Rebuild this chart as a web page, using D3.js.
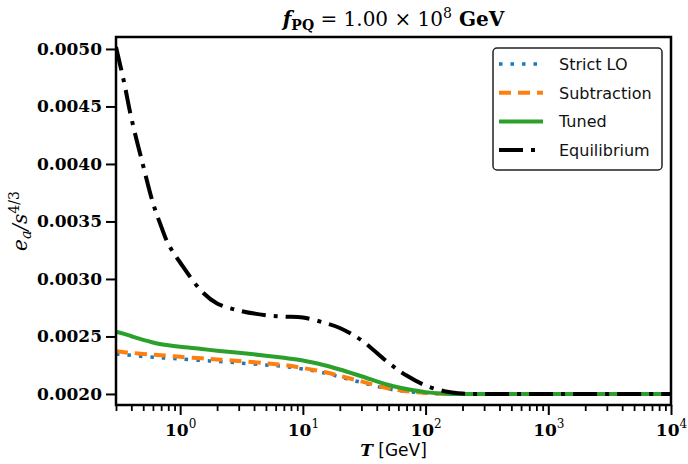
<!DOCTYPE html>
<html>
<head>
  <meta charset="utf-8">
  <title>fPQ</title>
  <script src="https://cdn.jsdelivr.net/npm/d3@7"></script>
  <style>
    body { margin: 0; background: #fff; }
  </style>
</head>
<body>
<svg id="mainsvg" width="688" height="464"></svg>
<script>
  // values
  const temps = [0.3, 0.35, 0.4, 0.5, 0.6, 0.7, 0.8, 1, 1.5, 2, 3, 5, 7, 10, 15, 20, 30, 50, 70, 100, 150, 200, 300, 500, 1000, 10000];
  const strictLO = [0.002348, 0.002341, 0.002337, 0.002326, 0.002319, 0.002314, 0.002311, 0.002304, 0.002291, 0.002283, 0.002270, 0.002252, 0.002239, 0.002217, 0.002183, 0.002148, 0.002100, 0.002043, 0.002022, 0.002007, 0.002001, 0.002000, 0.002000, 0.002000, 0.002000, 0.002000];
  const subtraction = [0.002371, 0.002363, 0.002358, 0.002348, 0.002341, 0.002336, 0.002332, 0.002323, 0.002310, 0.002300, 0.002287, 0.002267, 0.002252, 0.002226, 0.002191, 0.002157, 0.002109, 0.002048, 0.002024, 0.002009, 0.002001, 0.002000, 0.002000, 0.002000, 0.002000, 0.002000];
  const tuned = [0.002542, 0.002522, 0.002502, 0.002470, 0.002448, 0.002433, 0.002423, 0.002410, 0.002391, 0.002376, 0.002358, 0.002333, 0.002314, 0.002291, 0.002250, 0.002213, 0.002154, 0.002078, 0.002043, 0.002016, 0.002002, 0.002000, 0.002000, 0.002000, 0.002000, 0.002000];
  const equilibrium = [0.005017, 0.004704, 0.004400, 0.003983, 0.003661, 0.003457, 0.003304, 0.003143, 0.002892, 0.002787, 0.002726, 0.002685, 0.002673, 0.002664, 0.002619, 0.002574, 0.002467, 0.002270, 0.002160, 0.002074, 0.002019, 0.002003, 0.002000, 0.002000, 0.002000, 0.002000];
  const yTicks = [0.0020, 0.0025, 0.0030, 0.0035, 0.0040, 0.0045, 0.0050];
  const xTicks = [1, 10, 100, 1000, 10000];

  const series = [
    {name: 'Strict LO', values: strictLO, color: '#1f77b4', width: 3.5, dash: '3.5,8'},
    {name: 'Subtraction', values: subtraction, color: '#ff7f0e', width: 4, dash: '12,7'},
    {name: 'Tuned', values: tuned, color: '#2ca02c', width: 4, dash: null},
    {name: 'Equilibrium', values: equilibrium, color: '#000000', width: 4, dash: '24,8,4,8'}
  ];

  const svg = d3.select('#mainsvg');
  const pL = 116, pR = 671, pT = 37, pB = 405;

  const x = d3.scaleLog().domain([0.3, 10000]).range([pL, pR]);
  const y = d3.scaleLinear().domain([0.001904, 0.005104]).range([pB, pT]);

  svg.append('clipPath').attr('id', 'clip')
    .append('rect').attr('x', pL).attr('y', pT).attr('width', pR - pL).attr('height', pB - pT);

  const line = d3.line()
    .x(d => x(d[0]))
    .y(d => y(d[1]))
    .curve(d3.curveCatmullRom.alpha(0.5));

  const lines = svg.append('g').attr('clip-path', 'url(#clip)');
  series.forEach(s => {
    lines.append('path')
      .datum(temps.map((t, i) => [t, s.values[i]]))
      .attr('d', line)
      .attr('fill', 'none')
      .attr('stroke', s.color)
      .attr('stroke-width', s.width)
      .attr('stroke-dasharray', s.dash);
  });

  // y axis
  const yAxis = svg.append('g')
    .attr('transform', `translate(${pL},0)`)
    .call(d3.axisLeft(y).tickValues(yTicks).tickSize(10).tickPadding(4).tickFormat(d3.format('.4f')));
  yAxis.select('.domain').remove();
  yAxis.selectAll('line').attr('stroke', '#000').attr('stroke-width', 2);
  yAxis.selectAll('text')
    .attr('font-family', 'DejaVu Serif').attr('font-weight', 'bold').attr('font-size', 17).attr('fill', '#000');

  // x axis, major and minor ticks
  const minor = [];
  for (let e = -1; e < 4; e++) {
    for (let m = 2; m < 10; m++) {
      const v = m * Math.pow(10, e);
      if (v >= 0.3 && v <= 10000) minor.push(v);
    }
  }
  const xMinor = svg.append('g')
    .attr('transform', `translate(0,${pB})`)
    .call(d3.axisBottom(x).tickValues(minor).tickSize(6).tickFormat(''));
  xMinor.select('.domain').remove();
  xMinor.selectAll('line').attr('stroke', '#000').attr('stroke-width', 1.8);

  const xAxis = svg.append('g')
    .attr('transform', `translate(0,${pB})`)
    .call(d3.axisBottom(x).tickValues(xTicks).tickSize(10).tickFormat(''));
  xAxis.select('.domain').remove();
  xAxis.selectAll('line').attr('stroke', '#000').attr('stroke-width', 2);
  xAxis.selectAll('.tick').append('text')
    .attr('y', 31)
    .attr('text-anchor', 'middle')
    .attr('fill', '#000')
    .attr('font-family', 'DejaVu Serif').attr('font-weight', 'bold').attr('font-size', 17)
    .each(function(d) {
      const t = d3.select(this);
      t.append('tspan').text('10');
      t.append('tspan').attr('dy', -8).attr('font-size', 12).attr('font-weight', 'normal').text(Math.round(Math.log10(d)));
    });

  // frame
  svg.append('rect')
    .attr('x', pL).attr('y', pT).attr('width', pR - pL).attr('height', pB - pT)
    .attr('fill', 'none').attr('stroke', '#000').attr('stroke-width', 2.5);

  // title
  const title = svg.append('text')
    .attr('x', (pL + pR) / 2).attr('y', 26)
    .attr('text-anchor', 'middle')
    .attr('font-family', 'DejaVu Serif').attr('font-size', 20).attr('fill', '#000');
  title.append('tspan').attr('font-style', 'italic').attr('font-weight', 'bold').text('f');
  title.append('tspan').attr('dy', 4).attr('font-size', 14).attr('font-weight', 'bold').text('PQ');
  title.append('tspan').attr('dy', -4).text(' = 1.00 × 10');
  title.append('tspan').attr('dy', -8).attr('font-size', 14).text('8');
  title.append('tspan').attr('dy', 8).attr('font-weight', 'bold').text(' GeV');

  // axis labels
  const xl = svg.append('text')
    .attr('x', (pL + pR) / 2).attr('y', 456)
    .attr('text-anchor', 'middle').attr('fill', '#000').attr('font-size', 17);
  xl.append('tspan').attr('font-family', 'DejaVu Serif').attr('font-style', 'italic').attr('font-weight', 'bold').text('T');
  xl.append('tspan').attr('font-family', 'DejaVu Sans').text('  [GeV]');

  const yl = svg.append('text')
    .attr('transform', `translate(27,${(pT + pB) / 2}) rotate(-90)`)
    .attr('text-anchor', 'middle').attr('fill', '#000')
    .attr('font-family', 'DejaVu Serif').attr('font-style', 'italic').attr('font-size', 20);
  yl.append('tspan').text('e');
  yl.append('tspan').attr('dy', 4).attr('font-size', 14).text('a');
  yl.append('tspan').attr('dy', -4).text('/s');
  yl.append('tspan').attr('dy', -8).attr('font-size', 14).attr('font-style', 'normal').text('4/3');

  // legend
  const lg = svg.append('g').attr('transform', 'translate(493,48)');
  lg.append('rect')
    .attr('width', 169).attr('height', 122).attr('rx', 4)
    .attr('fill', '#fff').attr('stroke', '#222').attr('stroke-width', 1.5);
  series.forEach((s, i) => {
    const yy = 16 + i * 28.7;
    lg.append('line')
      .attr('x1', 6).attr('x2', 50).attr('y1', yy).attr('y2', yy)
      .attr('stroke', s.color).attr('stroke-width', s.width)
      .attr('stroke-dasharray', s.dash);
    lg.append('text')
      .attr('x', 66).attr('y', yy + 6)
      .attr('font-family', 'DejaVu Sans').attr('font-size', 16).attr('fill', '#111')
      .text(s.name);
  });
</script>
</body>
</html>
